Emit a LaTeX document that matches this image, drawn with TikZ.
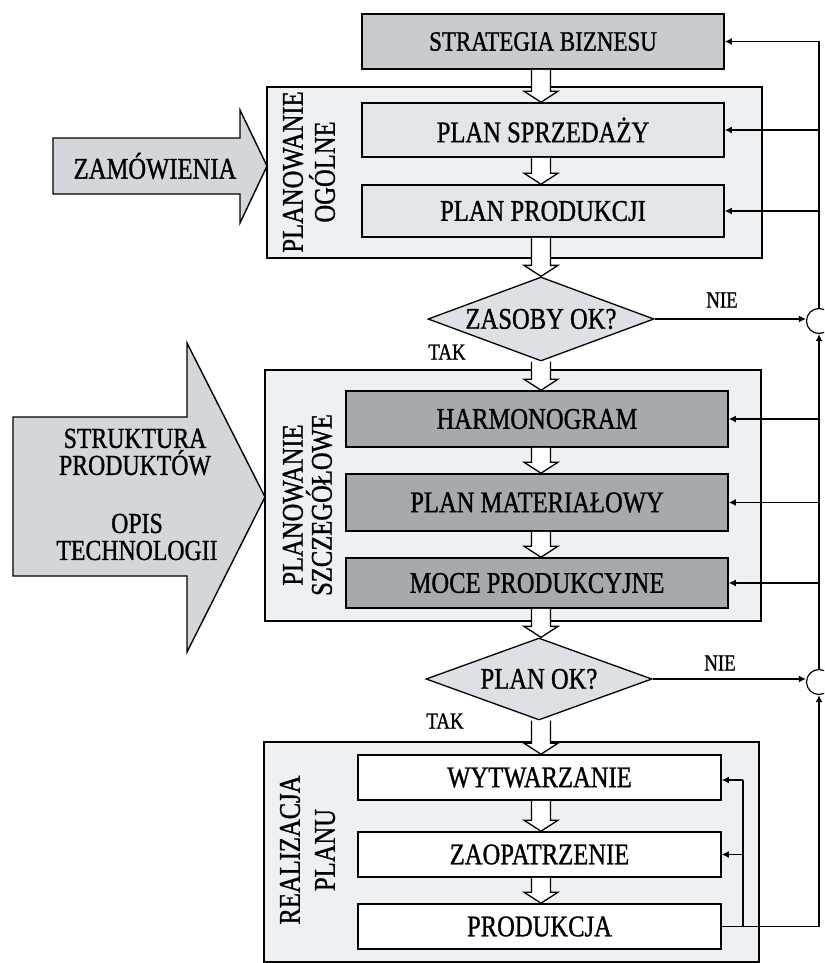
\documentclass[tikz,border=0pt]{standalone}
\usepackage{fontspec}
\setmainfont{Liberation Serif}[FakeStretch=0.82, FakeBold=1]
\usetikzlibrary{shapes.geometric,arrows.meta,calc}

\definecolor{stratfill}{RGB}{200,204,209}
\definecolor{groupfill}{RGB}{238,241,244}
\definecolor{lightfill}{RGB}{226,230,234}
\definecolor{darkfill}{RGB}{166,170,175}
\definecolor{decfill}{RGB}{221,225,229}
\definecolor{inputfill}{RGB}{211,214,218}

\tikzset{
  every node/.style={font=\fontsize{30}{34}\selectfont},
  group/.style={draw=black, line width=1.6pt, fill=groupfill, inner sep=0pt},
  stepbox/.style={draw=black, line width=1.6pt, inner sep=0pt, align=center},
  decision/.style={diamond, draw=black, line width=1.3pt, fill=decfill, inner sep=0pt, aspect=2.7},
  grouplabel/.style={rotate=90, align=center},
  answer/.style={font=\fontsize{23}{26}\selectfont},
  inputarrow/.style={draw=black, line width=1.4pt, fill=inputfill},
  hollowfill/.style={fill=white},
  hollowline/.style={draw=black, line width=1.3pt},
  fb/.style={line width=1.6pt, -{Latex[length=7pt,width=7pt]}},
  plainline/.style={line width=1.6pt},
  junction/.style={circle, draw=black, line width=1.2pt, fill=white, minimum size=25pt, inner sep=0pt},
}

% hollow block arrow from #1 down to #2 along the column coordinate (col)
\newcommand{\flowarrow}[2]{%
  \fill[hollowfill] ($(#1 -| col)+(-9.5,0)$) -- ($(#2 -| col)+(-9.5,-11)$) -- ($(#2 -| col)+(-17,-11)$)
    -- (#2 -| col) -- ($(#2 -| col)+(17,-11)$) -- ($(#2 -| col)+(9.5,-11)$) -- ($(#1 -| col)+(9.5,0)$) -- cycle;
  \draw[hollowline] ($(#1 -| col)+(-9.5,0)$) -- ($(#2 -| col)+(-9.5,-11)$) -- ($(#2 -| col)+(-17,-11)$)
    -- (#2 -| col) -- ($(#2 -| col)+(17,-11)$) -- ($(#2 -| col)+(9.5,-11)$) -- ($(#1 -| col)+(9.5,0)$);
}

\begin{document}
\begin{tikzpicture}[x=1pt, y=-1pt]
\useasboundingbox (0,0) rectangle (824,963);
\clip (0,0) rectangle (824,963);
\fill[white] (0,0) rectangle (824,963);

\coordinate (col) at (541,0);

% group frames
\node[group, minimum width=495pt, minimum height=171pt] (g1) at (514.5,172.5) {};
\node[group, minimum width=496pt, minimum height=251pt] (g2) at (513,495.5) {};
\node[group, minimum width=495pt, minimum height=220pt] (g3) at (511.5,852) {};

% steps
\node[stepbox, fill=stratfill, minimum width=362pt, minimum height=55pt, font=\fontsize{28}{32}\selectfont] (strat) at (543,41.5) {STRATEGIA BIZNESU};
\node[stepbox, fill=lightfill, minimum width=362pt, minimum height=54pt] (sprz) at (543,130) {PLAN SPRZEDAŻY};
\node[stepbox, fill=lightfill, minimum width=362pt, minimum height=52pt] (prod) at (543,211) {PLAN PRODUKCJI};

\node[decision, minimum width=226pt, minimum height=84pt] (dec1) at (541,319) {ZASOBY OK?};

\node[stepbox, fill=darkfill, minimum width=382pt, minimum height=56pt] (harm) at (537,419) {HARMONOGRAM};
\node[stepbox, fill=darkfill, minimum width=382pt, minimum height=57pt] (mat) at (537,502.5) {PLAN MATERIAŁOWY};
\node[stepbox, fill=darkfill, minimum width=382pt, minimum height=50pt] (moce) at (537,583) {MOCE PRODUKCYJNE};

\node[decision, minimum width=226pt, minimum height=82pt] (dec2) at (539,679) {PLAN OK?};

\node[stepbox, fill=white, minimum width=363pt, minimum height=45pt] (wytw) at (539.5,777.5) {WYTWARZANIE};
\node[stepbox, fill=white, minimum width=363pt, minimum height=45pt] (zaop) at (539.5,854.5) {ZAOPATRZENIE};
\node[stepbox, fill=white, minimum width=363pt, minimum height=45pt] (prodk) at (539.5,926.5) {PRODUKCJA};

% group titles
\node[grouplabel, font=\fontsize{30}{32}\selectfont] (t1) at (309,172) {PLANOWANIE\\OGÓLNE};
\node[grouplabel, font=\fontsize{30}{29}\selectfont] (t2) at (307.5,505) {PLANOWANIE\\SZCZEGÓŁOWE};
\node[grouplabel, font=\fontsize{30}{35}\selectfont] (t3) at (307.5,850) {REALIZACJA\\PLANU};

% flow between steps
\flowarrow{strat.south}{sprz.north}
\flowarrow{sprz.south}{prod.north}
\flowarrow{prod.south}{dec1.north}
\flowarrow{dec1.south}{harm.north}
\flowarrow{harm.south}{mat.north}
\flowarrow{mat.south}{moce.north}
\flowarrow{moce.south}{dec2.north}
\flowarrow{dec2.south}{wytw.north}
\flowarrow{wytw.south}{zaop.north}
\flowarrow{zaop.south}{prodk.north}

% answers
\node[answer] (nie1) at (722,300) {NIE};
\node[answer] (tak1) at (447,352) {TAK};
\node[answer] (nie2) at (720,663) {NIE};
\node[answer] (tak2) at (445,721) {TAK};

% inputs
\path[inputarrow] (53,138) -- (240,138) -- (240,110) -- (267,166) -- (240,223) -- (240,194) -- (53,194) -- cycle;
\node (zam) at (155,166) {ZAMÓWIENIA};
\path[inputarrow] (13,417) -- (187,417) -- (187,343) -- (265,497) -- (187,652) -- (187,576) -- (13,576) -- cycle;
\node[align=center, font=\fontsize{29}{27}\selectfont] (struk) at (135,452) {STRUKTURA\\PRODUKTÓW};
\node[align=center, font=\fontsize{29}{27}\selectfont] (opis) at (137,537) {OPIS\\TECHNOLOGII};

% feedback loops
\node[junction] (j1) at (819,321) {};
\node[junction] (j2) at (819,682) {};
\draw[fb] (dec1.east) -- (dec1.east -| j1.west);
\draw[fb] (dec2.east) -- (dec2.east -| j2.west);
\draw[fb] (prodk.east) -| (j2.south);
\draw[fb] (j2.north) -- (j1.south);
\draw[fb] (j1.north) |- (strat.east);
\draw[fb] (sprz.east -| j1.north) -- (sprz.east);
\draw[fb] (prod.east -| j1.north) -- (prod.east);
\draw[fb] (harm.east -| j2.north) -- (harm.east);
\draw[fb] (mat.east -| j2.north) -- (mat.east);
\draw[fb] (moce.east -| j2.north) -- (moce.east);

\coordinate (loop) at (743,0);
\draw[plainline] (prodk.east -| loop) -- ($(wytw.east -| loop)+(0,2.5)$);
\draw[fb] ($(wytw.east -| loop)+(0,2.5)$) -- ($(wytw.east)+(0,2.5)$);
\draw[fb] (zaop.east -| loop) -- (zaop.east);
\end{tikzpicture}
\end{document}
